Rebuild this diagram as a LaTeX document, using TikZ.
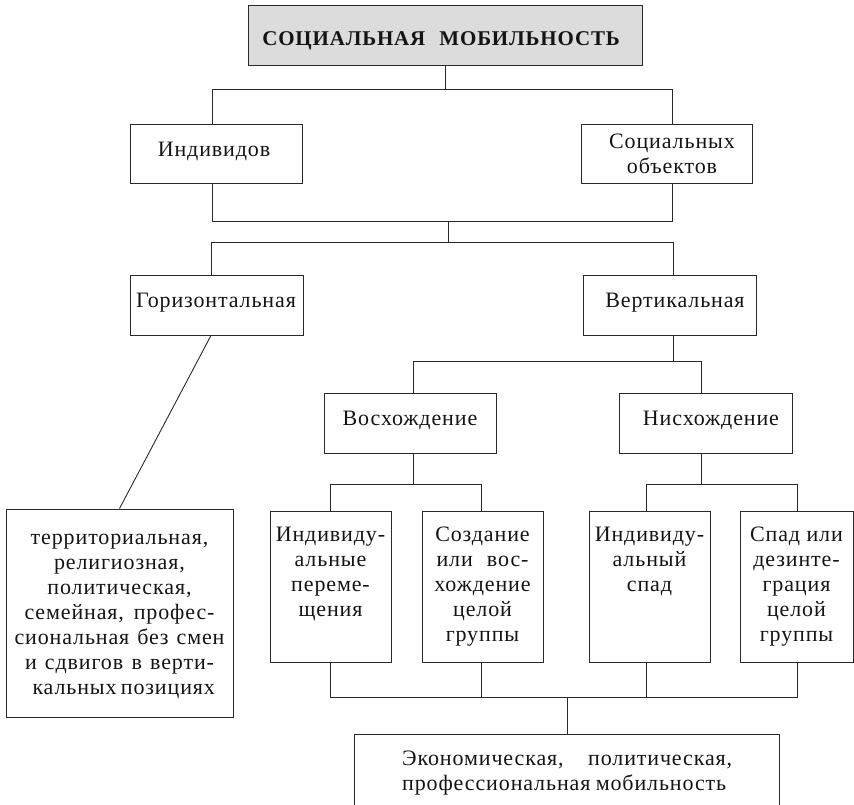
\documentclass[tikz,border=0pt]{standalone}
\usepackage{fontspec}
\setmainfont{Liberation Serif}[LetterSpace=4]
\definecolor{linec}{HTML}{2A2A2A}
\definecolor{titlefill}{HTML}{DCDCDC}
\definecolor{textc}{HTML}{141414}
\begin{document}
\begin{tikzpicture}[x=1pt,y=-1pt,
  box/.style={draw=linec, line width=0.9pt, rectangle, inner sep=0pt},
  txt/.style={inner sep=0pt, font=\fontsize{22}{25}\selectfont, text=textc, anchor=base},
  conn/.style={draw=linec, line width=0.9pt}]
\useasboundingbox (0,0) rectangle (854,804);
\clip (0,0) rectangle (854,804);
% boxes
\node[box, fill=titlefill, minimum width=394pt, minimum height=60pt] (title) at (445,35) {};
\node[box, minimum width=172pt, minimum height=59pt] (ind) at (216,153.5) {};
\node[box, minimum width=171pt, minimum height=59pt] (soc) at (666.5,153.5) {};
\node[box, minimum width=173pt, minimum height=60pt] (gor) at (216.5,305) {};
\node[box, minimum width=173pt, minimum height=60pt] (ver) at (669.5,305) {};
\node[box, minimum width=227pt, minimum height=208pt] (terr) at (119.5,613) {};
\node[box, minimum width=172pt, minimum height=60pt] (vos) at (410,423) {};
\node[box, minimum width=173pt, minimum height=60pt] (nis) at (705.5,423) {};
\node[box, minimum width=121pt, minimum height=151pt] (p1) at (330.5,586.5) {};
\node[box, minimum width=121pt, minimum height=151pt] (p2) at (482.5,586.5) {};
\node[box, minimum width=121pt, minimum height=151pt] (p3) at (649.5,586.5) {};
\node[box, minimum width=113pt, minimum height=151pt] (p4) at (796.5,586.5) {};
\node[box, minimum width=425pt, minimum height=76pt] (eco) at (566.5,772) {};
% texts (multi-line nodes: base anchor = last line's baseline)
\node[txt, font=\fontsize{21}{25}\selectfont\bfseries] (ttitle) at (441,45) {СОЦИАЛЬНАЯ\hspace{8pt} МОБИЛЬНОСТЬ};
\node[txt] (tind) at (214,156) {Индивидов};
\node[txt, align=center] (tsoc) at (672,173) {Социальных\\объектов};
\node[txt] (tgor) at (216,307) {Горизонтальная};
\node[txt] (tver) at (675,307) {Вертикальная};
\node[txt] (tvos) at (410,425) {Восхождение};
\node[txt] (tnis) at (711,425) {Нисхождение};
\node[txt, align=center] (tterr) at (119.5,694) {территориальная,\\религиозная,\\политическая,\\\makebox[190pt][s]{семейная, профес-}\\\makebox[210pt][s]{сиональная без смен}\\\makebox[189pt][s]{и сдвигов в верти-}\\\makebox[174pt][s]{кальных позициях}};
\node[txt, align=center] (tp1) at (330.5,616) {Индивиду-\\альные\\переме-\\щения};
\node[txt, align=center] (tp2) at (482.5,641) {Создание\\\makebox[92pt][s]{или вос-}\\хождение\\целой\\группы};
\node[txt, align=center] (tp3) at (649.5,591) {Индивиду-\\альный\\спад};
\node[txt, align=center] (tp4) at (796.5,641) {Спад или\\дезинте-\\грация\\целой\\группы};
\node[txt, align=left, anchor=base west] (teco) at (402,790) {\makebox[330pt][s]{Экономическая, политическая,}\\\makebox[324pt][s]{профессиональная мобильность}};
% connectors
\coordinate (b1L) at (212,89); \coordinate (b1R) at (672,89);
\draw[conn] (title.south) -- (title.south |- b1L);
\draw[conn] (b1L |- ind.north) -- (b1L) -- (b1R) -- (b1R |- soc.north);
\coordinate (u1L) at (212,221); \coordinate (u1R) at (672,221); \coordinate (u1M) at (448,221);
\draw[conn] (u1L |- ind.south) -- (u1L) -- (u1R) -- (u1R |- soc.south);
\coordinate (b2L) at (211,242); \coordinate (b2R) at (673,242);
\draw[conn] (u1M) -- (u1M |- b2L);
\draw[conn] (b2L |- gor.north) -- (b2L) -- (b2R) -- (b2R |- ver.north);
\draw[conn] (b2L |- gor.south) -- (terr.north);
\coordinate (b3L) at (413,361); \coordinate (b3R) at (701,361);
\draw[conn] (ver.south -| b2R) -- (b2R |- b3L);
\draw[conn] (vos.north -| b3L) -- (b3L) -- (b3R) -- (nis.north -| b3R);
\coordinate (b4a) at (413,484); \coordinate (b4L) at (330,484); \coordinate (b4M) at (481,484);
\draw[conn] (vos.south -| b4a) -- (b4a);
\draw[conn] (p1.north -| b4L) -- (b4L) -- (b4M) -- (p2.north -| b4M);
\coordinate (b4b) at (701,484); \coordinate (b4N) at (646,484); \coordinate (b4O) at (797,484);
\draw[conn] (nis.south -| b4b) -- (b4b);
\draw[conn] (p3.north -| b4N) -- (b4N) -- (b4O) -- (p4.north -| b4O);
\coordinate (b5L) at (330,697); \coordinate (b5R) at (797,697); \coordinate (b5a) at (481,697);
\coordinate (b5b) at (646,697); \coordinate (b5M) at (567,697);
\draw[conn] (p1.south -| b5L) -- (b5L) -- (b5R) -- (p4.south -| b5R);
\draw[conn] (p2.south -| b5a) -- (b5a);
\draw[conn] (p3.south -| b5b) -- (b5b);
\draw[conn] (b5M) -- (eco.north -| b5M);
\end{tikzpicture}
\end{document}
